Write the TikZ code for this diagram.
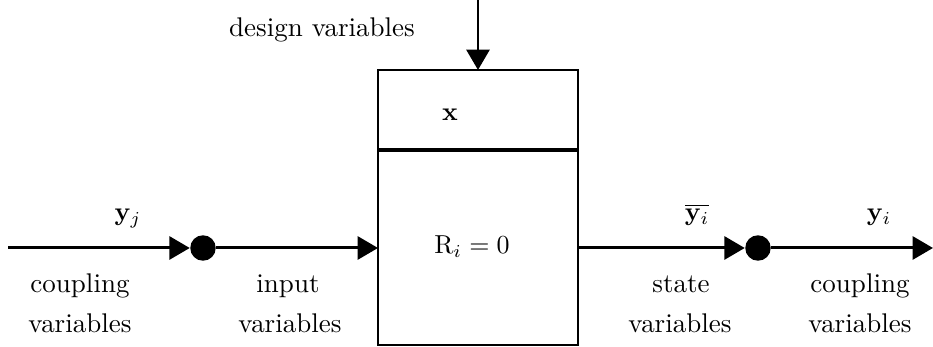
\documentclass[tikz,border=0pt]{standalone}
\usetikzlibrary{arrows.meta}
\begin{document}
\begin{tikzpicture}[x=0.385pt,y=-0.385pt,
  conn/.style={line width=1.15pt,-{Triangle[length=7.8pt,width=8.8pt]}},
  boxpart/.style={draw,line width=1pt,minimum width=200*0.385pt,inner sep=0pt,outer sep=0pt},
  junction/.style={circle,fill=black,minimum size=9.8pt,inner sep=0pt},
  lbl/.style={inner sep=0pt,anchor=base,font=\fontsize{10.4}{12}\selectfont}]
\useasboundingbox (0,0) rectangle (933,347);
% box
\node[boxpart,minimum height=80*0.385pt] (xbox) at (478,110) {};
\node[boxpart,minimum height=194*0.385pt] (rbox) at (478,248) {};
\draw[line width=1.8pt] (xbox.south west) -- (xbox.south east);
\node[lbl] (xlab) at (450,121) {$\mathbf{x}$};
\node[lbl] (rlab) at (472,254) {$\mathrm{R}_i = 0$};
% top input
\coordinate (top) at (478,0);
\draw[conn] (top) -- (xbox.north);
\node[lbl] (dv) at (322,37) {design variables};
% junctions
\node[junction] (d1) at (203,248) {};
\node[junction] (d2) at (758,248) {};
\coordinate (inend) at (8,248);
\coordinate (outend) at (933,248);
\draw[conn] (inend) -- (d1.west);
\draw[conn] (d1) -- (rbox.west);
\draw[conn] (rbox.east) -- (d2.west);
\draw[conn] (d2) -- (outend);
% labels
\node[lbl] (yj) at (128,221) {$\mathbf{y}_j$};
\node[lbl] (c1) at (80,293) {coupling};
\node[lbl] (v1) at (80,333) {variables};
\node[lbl] (in) at (288,293) {input};
\node[lbl] (v2) at (290,333) {variables};
\node[lbl] (ybar) at (697,221) {$\overline{\mathbf{y}_i}$};
\node[lbl] (st) at (681,293) {state};
\node[lbl] (v3) at (680,333) {variables};
\node[lbl] (yi) at (879,221) {$\mathbf{y}_i$};
\node[lbl] (c2) at (860,293) {coupling};
\node[lbl] (v4) at (860,333) {variables};
\end{tikzpicture}
\end{document}
